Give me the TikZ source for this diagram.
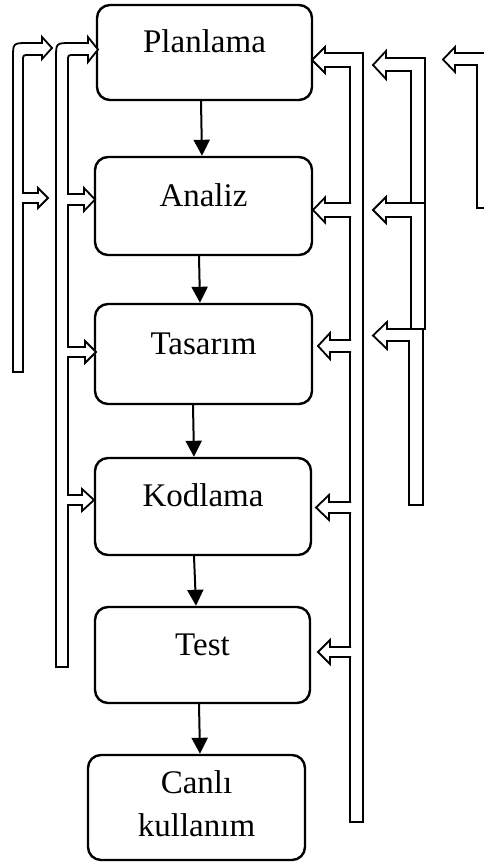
\documentclass[tikz,border=0pt]{standalone}
\usepackage{fontspec}
\setmainfont{Liberation Serif}
\usepackage{tikz}
\usetikzlibrary{
	arrows.meta,
	positioning
}

\begin{document}
\begin{tikzpicture}
[x=1pt, y=-1pt,
 box/.style={draw, line width=2.4pt, rounded corners=13pt, minimum width=216pt, minimum height=97pt, font=\fontsize{33}{43}\selectfont},
 oneline/.style={text height=20pt, text depth=20pt},
 flow/.style={line width=2pt, -{Triangle[length=16pt,width=16pt]}},
 block/.style={draw, line width=1.8pt, fill=white, line join=miter}]
\path[use as bounding box, clip] (0,0) rectangle (484,863);
\node[box, oneline, minimum width=215pt, minimum height=95pt] (plan) at (204.5,52.5) {Planlama};
\node[box, oneline, minimum width=217pt, minimum height=98pt] (analiz) at (203.5,206) {Analiz};
\node[box, oneline, minimum width=217pt, minimum height=100pt] (tasarim) at (203.5,354) {Tasarım};
\node[box, oneline] (kodlama) at (203,506.5) {Kodlama};
\node[box, oneline, minimum width=215pt, minimum height=96pt] (test) at (202.5,655) {Test};
\node[box, align=center, text depth=7pt, minimum width=217pt, minimum height=105pt] (canli) at (196.5,807.5) {Canlı\\kullanım};
\draw[flow] ([xshift=-3.5pt]plan.south) -- ([xshift=-1.5pt]analiz.north);
\draw[flow] ([xshift=-4.5pt]analiz.south) -- ([xshift=-3.5pt]tasarim.north);
\draw[flow] ([xshift=-10.5pt]tasarim.south) -- ([xshift=-9pt]kodlama.north);
\draw[flow] ([xshift=-9pt]kodlama.south) -- ([xshift=-6.5pt]test.north);
\draw[flow] ([xshift=-3.5pt]test.south) -- ([xshift=3.5pt]canli.north);
% left bars
\draw[block] (13,372) -- (13,58) .. controls (13,43) .. (28,43) -- (42,43) -- (42,37) -- (52,48) -- (42,59) -- (42,55) -- (29,55) .. controls (23,55) .. (23,61) -- (23,372) -- cycle;
\draw[block] (22,193) -- (38,193) -- (38,188) -- (48,198) -- (38,208) -- (38,203) -- (22,203);
\draw[block] (56,667) -- (56,58) .. controls (56,43) .. (71,43) -- (88,43) -- (88,37) -- (98,49.5) -- (88,62) -- (88,55) -- (74,55) .. controls (68,55) .. (68,61) -- (68,667) -- cycle;
\draw[block] (67,194) -- (84,194) -- (84,188) -- (95,199.5) -- (84,211) -- (84,205) -- (67,205);
\draw[block] (67,347) -- (85,347) -- (85,341) -- (96,352) -- (85,363) -- (85,357) -- (67,357);
\draw[block] (67,495) -- (82,495) -- (82,489) -- (94,500) -- (82,511) -- (82,505) -- (67,505);
% right bars
\draw[block] (363,822) -- (363,53) -- (325,53) -- (325,47) -- (312,60) -- (325,73) -- (325,67) -- (350,67) -- (350,822) -- cycle;
\draw[block] (351,203) -- (325,203) -- (325,197.5) -- (313,210) -- (325,222.5) -- (325,217) -- (351,217);
\draw[block] (351,340) -- (330,340) -- (330,333) -- (318,346) -- (330,359) -- (330,352) -- (351,352);
\draw[block] (351,502) -- (329,502) -- (329,495) -- (316,507.5) -- (329,520) -- (329,513) -- (351,513);
\draw[block] (351,647) -- (330,647) -- (330,640) -- (318,652) -- (330,664) -- (330,657) -- (351,657);
\draw[block] (425,203) -- (425,58) -- (386,58) -- (386,51) -- (373,65) -- (386,79) -- (386,71) -- (411,71) -- (411,203) -- cycle;
\draw[block] (425,329) -- (425,203) -- (386,203) -- (386,197) -- (373,210) -- (386,223) -- (386,217) -- (411,217) -- (411,329) -- cycle;
\draw[block] (423,505) -- (423,329) -- (387,329) -- (387,322) -- (373,335.5) -- (387,349) -- (387,341) -- (409,341) -- (409,505) -- cycle;
\draw[block] (492,208) -- (492,53) -- (455,53) -- (455,47) -- (443,59.5) -- (455,72) -- (455,65) -- (477,65) -- (477,208) -- cycle;
\end{tikzpicture}
\end{document}
